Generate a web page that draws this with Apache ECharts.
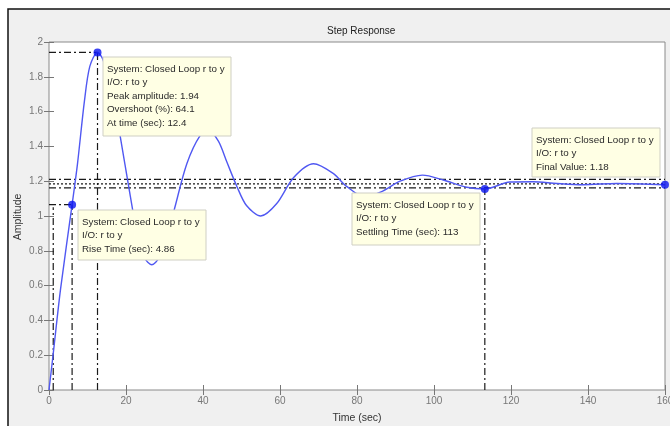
<!DOCTYPE html>
<html>
<head>
<meta charset="utf-8">
<script src="https://cdn.jsdelivr.net/npm/echarts@6/dist/echarts.min.js"></script>
<style>
html,body{margin:0;padding:0;background:#fff;}
#c{width:670px;height:426px;}
</style>
</head>
<body>
<div id="c"></div>
<script>
// Step response curve (time in sec, amplitude)
const timeVals = [0,1,3,6,7.4,9.2,10.6,12.6,14,15.5,17,18.4,21,22.8,24.8,26.7,28.6,30.6,32.7,35.8,39.2,41.5,44,46.2,48.8,51.3,55,59.1,63.5,68.7,73.8,77.3,82,86.4,91.2,97,102.4,108.5,113.2,119.7,125.7,131.9,138.7,147.5,160];
const ampVals  = [0,0.19,0.58,1.065,1.3,1.66,1.86,1.94,1.9,1.78,1.63,1.47,1.13,0.91,0.76,0.72,0.76,0.87,1.05,1.30,1.46,1.49,1.43,1.31,1.17,1.06,1.0,1.07,1.22,1.30,1.245,1.17,1.11,1.14,1.2,1.235,1.207,1.165,1.155,1.195,1.197,1.187,1.18,1.187,1.18];

// Characteristic points: rise (90%), peak, settling, final
const markX = [6.0, 12.6, 113.2, 160];
const markY = [1.065, 1.94, 1.155, 1.18];

// Reference lines
const riseStartX = 1.1, riseStartTop = 1.05;
const upperBound = 1.21, finalLine = 1.185, lowerBound = 1.162;

const xTicks = [0,20,40,60,80,100,120,140,160];
const yTicks = [0,0.2,0.4,0.6,0.8,1,1.2,1.4,1.6,1.8,2];

const tipTexts = [
  ['System: Closed Loop r to y','I/O: r to y','Peak amplitude: 1.94','Overshoot (%): 64.1','At time (sec): 12.4'],
  ['System: Closed Loop r to y','I/O: r to y','Rise Time (sec): 4.86'],
  ['System: Closed Loop r to y','I/O: r to y','Settling Time (sec): 113'],
  ['System: Closed Loop r to y','I/O: r to y','Final Value: 1.18']
];

const chart = echarts.init(document.getElementById('c'));
const curve = timeVals.map((t,i)=>[t, ampVals[i]]);
const dashDot = [7,3,2,3];
function refLine(pts, type){
  return {type:'line', data:pts, symbol:'none', silent:true, z:3,
    lineStyle:{color:'#1a1a1a', width:1.2, type:type||dashDot}};
}
const font = '9.8px "Liberation Sans", Arial, sans-serif';
function tip(x,y,w,h,lines){
  return {type:'group', x:x, y:y, z:100, children:[
    {type:'rect', shape:{x:0,y:0,width:w,height:h}, style:{fill:'#ffffe4', stroke:'#cfcfc4', lineWidth:1}, z:100},
    {type:'text', x:4, y:5, z:101, style:{text:lines.join('\n'), font:font, fill:'#2a2a2a', lineHeight:13.6}}
  ]};
}
chart.setOption({
  animation:false,
  backgroundColor:'#fff',
  title:{text:'Step Response', left:322, top:21,
    textStyle:{fontSize:10, fontWeight:'normal', color:'#222', fontFamily:'"Liberation Sans", Arial'}},
  grid:{left:49, top:42, right:5, bottom:36, show:true, backgroundColor:'#fff', borderColor:'#8a8a8a', borderWidth:1,
    outerBoundsMode:'none', containLabel:false},
  xAxis:[
    {type:'value', min:0, max:160, interval:20, position:'bottom',
      name:'Time (sec)', nameLocation:'middle', nameGap:23,
      nameTextStyle:{fontSize:10.5, color:'#333', fontFamily:'"Liberation Sans", Arial'},
      axisLine:{show:false}, splitLine:{show:false},
      axisTick:{inside:true, length:5, lineStyle:{color:'#777'}},
      axisLabel:{fontSize:10, color:'#777', margin:6, fontFamily:'"Liberation Sans", Arial', hideOverlap:false,
        formatter:v=> xTicks.includes(v)? String(v):''}},
    {type:'value', min:0, max:160, interval:20, position:'top',
      axisLine:{show:false}, splitLine:{show:false}, axisLabel:{show:false},
      axisTick:{inside:true, length:5, lineStyle:{color:'#777'}}}
  ],
  yAxis:[
    {type:'value', min:0, max:2, interval:0.2, position:'left',
      axisLine:{show:false}, splitLine:{show:false},
      axisTick:{inside:true, length:5, lineStyle:{color:'#777'}},
      axisLabel:{fontSize:10, color:'#777', margin:6, fontFamily:'"Liberation Sans", Arial',
        formatter:v=> String(Math.round(v*10)/10)}},
    {type:'value', min:0, max:2, interval:0.2, position:'right',
      axisLine:{show:false}, splitLine:{show:false}, axisLabel:{show:false},
      axisTick:{inside:true, length:5, lineStyle:{color:'#777'}}}
  ],
  series:[
    refLine([[0,upperBound],[160,upperBound]]),
    refLine([[0,finalLine],[160,finalLine]], [2,2]),
    refLine([[0,lowerBound],[160,lowerBound]]),
    refLine([[0,markY[0]],[markX[0],markY[0]]]),
    refLine([[markX[0],0],[markX[0],markY[0]]]),
    refLine([[riseStartX,0],[riseStartX,riseStartTop]]),
    refLine([[0,markY[1]],[markX[1],markY[1]]]),
    refLine([[markX[1],0],[markX[1],markY[1]]]),
    refLine([[markX[2],0],[markX[2],markY[2]]]),
    {type:'line', data:curve, smooth:0.3, symbol:'none', z:5,
      lineStyle:{color:'#5058f2', width:1.4}},
    {type:'scatter', data:markX.map((x,i)=>[x,markY[i]]), symbolSize:8, z:6,
      itemStyle:{color:'#0a14f0'}}
  ],
  graphic:[
    {type:'rect', z:-10, shape:{x:8,y:9,width:700,height:440}, style:{fill:'#f0f0f0', stroke:'#111', lineWidth:1.5}, silent:true},
    {type:'text', x:18, y:217, rotation:Math.PI/2, z:50,
      style:{text:'Amplitude', font:'10.5px "Liberation Sans", Arial', fill:'#333', align:'center', verticalAlign:'middle'}},
    tip(103,57,128,79,tipTexts[0]),
    tip(78,210,128,50,tipTexts[1]),
    tip(352,193,128,52,tipTexts[2]),
    tip(532,128,128,49,tipTexts[3])
  ]
});
</script>
</body>
</html>
